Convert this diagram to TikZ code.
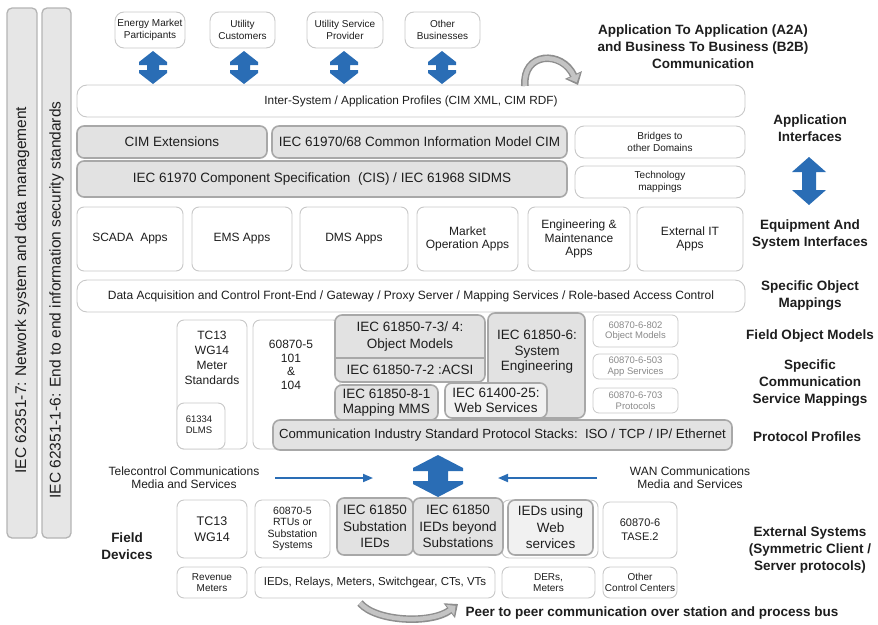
\documentclass[tikz,border=0pt]{standalone}
\usepackage{fontspec}
\setmainfont{Liberation Sans}
\usetikzlibrary{arrows.meta,calc}

\definecolor{blueA}{HTML}{2A6DB5}
\definecolor{gfill}{HTML}{E2E2E2}
\definecolor{lfill}{HTML}{F1F1F1}
\definecolor{gline}{HTML}{A8A8A8}
\definecolor{wline}{HTML}{C8C8C8}
\definecolor{txt}{HTML}{1E1E1E}
\definecolor{ltxt}{HTML}{8A8A8A}
\definecolor{barfill}{HTML}{E6E6E6}
\definecolor{barline}{HTML}{B4B4B4}
\definecolor{garrow}{HTML}{8E8E8E}
\definecolor{garrowin}{HTML}{C4C4C4}

\newcommand{\fs}[2]{\fontsize{#1}{#2}\selectfont}
% box from corner (x1,y1) to (x2,y2), given in picture units
\newcommand{\bx}[7]{\node[#2, minimum width={(#5-#3)*1pt}, minimum height={(#6-#4)*1pt}] (#1) at ({(#3+#5)/2},{(#4+#6)/2}) {#7};}
% notched double arrow: cx, top, bottom, head half-width, shaft half-width, head length, step
\newcommand{\dbl}[7]{%
  \fill[blueA] (#1,#2) -- ({#1+#4},{#2+#6}) -- ({#1+#4},{#2+#6+#7}) -- ({#1+#5},{#2+#6+#7})
   -- ({#1+#5},{#3-#6-#7}) -- ({#1+#4},{#3-#6-#7}) -- ({#1+#4},{#3-#6}) -- (#1,#3)
   -- ({#1-#4},{#3-#6}) -- ({#1-#4},{#3-#6-#7}) -- ({#1-#5},{#3-#6-#7})
   -- ({#1-#5},{#2+#6+#7}) -- ({#1-#4},{#2+#6+#7}) -- ({#1-#4},{#2+#6}) -- cycle;}

\begin{document}
\begin{tikzpicture}[x=1pt,y=-1pt,
  wbox/.style={draw=wline, fill=white, line width=0.9pt, rounded corners=7pt, inner sep=0pt, align=center, text=txt},
  gbox/.style={draw=gline, fill=gfill, line width=1.6pt, rounded corners=7pt, inner sep=0pt, align=center, text=txt, font=\fs{13.5}{16}},
  lbox/.style={gbox, fill=lfill},
  sbox/.style={draw=wline, line width=0.8pt, fill=white, rounded corners=6pt, inner sep=0pt, align=center, text=ltxt, font=\fs{9.5}{10.5}},
  bar/.style={draw=barline, fill=barfill, line width=1.3pt, rounded corners=5pt, inner sep=0pt},
  lab/.style={font=\bfseries\fs{13.5}{17}, align=center, text=txt},
  plain/.style={align=center, text=txt, inner sep=0pt},
  bluearrow/.style={draw=blueA, line width=1.8pt, -{Triangle[width=8pt,length=10pt]}},
  garrowout/.style={draw=garrow, line width=7.5pt, -{Triangle[width=18pt,length=11pt]}},
  garrowinner/.style={draw=garrowin, line width=4.5pt, shorten >=3pt, -{Triangle[width=13pt,length=7pt]}}]
\useasboundingbox (0,0) rectangle (878,624);

% security / management bars on the left
\bx{barA}{bar}{7}{8}{37}{538}{}
\bx{barB}{bar}{42}{8}{71}{538}{}
\node[rotate=90, font=\fs{15.5}{18}, text=txt] (barAt) at (22,290) {IEC 62351-7: Network system and data management};
\node[rotate=90, font=\fs{15.5}{18}, text=txt] (barBt) at (56.5,300) {IEC 62351-1-6: End to end information security standards};

% business parties
\bx{emp}{wbox,rounded corners=9pt,font=\fs{10}{11.5}}{115}{12}{185}{48}{Energy Market\\Participants}
\bx{uc}{wbox,rounded corners=9pt,font=\fs{10}{11.5}}{210}{12}{275}{48}{Utility\\Customers}
\bx{usp}{wbox,rounded corners=9pt,font=\fs{10}{11.5}}{307}{12}{383}{48}{Utility Service\\Provider}
\bx{ob}{wbox,rounded corners=9pt,font=\fs{10}{11.5}}{405}{12}{480}{48}{Other\\Businesses}
\dbl{153}{51}{84}{14}{6}{11}{3}
\dbl{244}{51}{84}{14}{6}{11}{3}
\dbl{344}{51}{84}{14}{6}{11}{3}
\dbl{442}{51}{84}{14}{6}{11}{3}

% application layers
\bx{isys}{wbox,rounded corners=10pt,font=\fs{11.8}{13}}{77}{85}{745}{117}{Inter-System / Application Profiles (CIM XML, CIM RDF)}
\coordinate (a2aL) at (525,86);
\coordinate (a2aR) at (578,85);
\draw[garrowout] (a2aL) .. controls (522,52) and (562,50) .. (a2aR);
\draw[garrowinner] (a2aL) .. controls (522,52) and (562,50) .. (a2aR);

\bx{cimx}{gbox}{77}{126}{267}{158}{CIM Extensions}
\bx{cim}{gbox}{272}{126}{567}{158}{IEC 61970/68 Common Information Model CIM}
\bx{brd}{wbox,rounded corners=9pt,font=\fs{10}{12}}{575}{126}{745}{158}{Bridges to\\other Domains}
\bx{cis}{gbox}{77}{161}{567}{197}{IEC 61970 Component Specification~~(CIS) / IEC 61968 SIDMS}
\bx{tech}{wbox,rounded corners=9pt,font=\fs{10}{12}}{575}{166}{745}{198}{Technology\\mappings}

\bx{scada}{wbox,font=\fs{12}{13.5}}{77}{207}{183}{271}{SCADA~~Apps}
\bx{ems}{wbox,font=\fs{12}{13.5}}{192}{207}{292}{271}{EMS Apps}
\bx{dms}{wbox,font=\fs{12}{13.5}}{300}{207}{408}{271}{DMS Apps}
\bx{mkt}{wbox,font=\fs{12}{13.5}}{417}{207}{518}{271}{Market\\Operation Apps}
\bx{eng}{wbox,font=\fs{12}{13.5}}{528}{207}{630}{271}{Engineering \&\\Maintenance\\Apps}
\bx{ext}{wbox,font=\fs{12}{13.5}}{637}{207}{743}{271}{External IT\\Apps}

\bx{daq}{wbox,rounded corners=10pt,font=\fs{12}{13}}{77}{280}{745}{312}{Data Acquisition and Control Front-End / Gateway / Proxy Server / Mapping Services / Role-based Access Control}

% field object models and mappings
\bx{tcm}{wbox}{177}{320}{247}{449}{}
\node[plain, font=\fs{12}{15}] (tcmt) at (212,358) {TC13\\WG14\\Meter\\Standards};
\bx{dlms}{wbox}{177}{403}{225}{449}{}
\node[plain, font=\fs{9.5}{11}] (dlmst) at (199,425) {61334\\DLMS};
\bx{iec5}{wbox}{253}{320}{340}{449}{}
\node[plain, font=\fs{12}{13.5}] (iec5t) at (291,365) {60870-5\\101\\\&\\104};

\bx{om}{gbox}{335}{315}{485}{382}{}
\coordinate (omdiv) at (410,358);
\draw[draw=gline, line width=1.1pt] (om.west |- omdiv) -- (om.east |- omdiv);
\node[plain, font=\fs{13.5}{17}] (omt) at (410,337) {IEC 61850-7-3/ 4:\\Object Models};
\node[plain, font=\fs{13.5}{16}] (acsi) at (410,370) {IEC 61850-7-2 :ACSI};

\bx{sys}{gbox}{488}{313}{585}{418}{}
\node[plain, font=\fs{13.5}{15.5}] (syst) at (537,352) {IEC 61850-6:\\System\\Engineering};

\bx{mms}{gbox,font=\fs{13.5}{15}}{335}{385}{438}{420}{IEC 61850-8-1\\Mapping MMS}
\bx{web}{lbox,font=\fs{13.5}{15}}{445}{383}{547}{418}{IEC 61400-25:\\Web Services}

\bx{s802}{sbox}{593}{315}{678}{347}{60870-6-802\\Object Models}
\bx{s503}{sbox}{593}{354}{678}{379}{60870-6-503\\App Services}
\bx{s703}{sbox}{593}{388}{678}{413}{60870-6-703\\Protocols}

\bx{stack}{gbox,font=\fs{13.2}{15}}{273}{420}{732}{450}{Communication Industry Standard Protocol Stacks:~~ISO / TCP / IP/ Ethernet}

% communication media
\node[plain, font=\fs{12}{13}] (tele) at (184,478) {Telecontrol Communications\\Media and Services};
\node[plain, font=\fs{12}{13}] (wan) at (690,478) {WAN Communications\\Media and Services};
\coordinate (teleA) at (275,478);
\coordinate (teleB) at (373,478);
\coordinate (wanA) at (597,478);
\coordinate (wanB) at (498,478);
\draw[bluearrow] (teleA) -- (teleB);
\draw[bluearrow] (wanA) -- (wanB);
\dbl{438}{455}{497}{25}{10}{13}{3}

% field devices
\node[lab] (fd) at (127,546) {Field\\Devices};
\bx{tcw}{wbox,font=\fs{12.5}{16}}{177}{500}{247}{558}{TC13\\WG14}
\bx{rtu}{wbox,font=\fs{10.5}{11.5}}{255}{500}{330}{558}{60870-5\\RTUs or\\Substation\\Systems}
\bx{webout}{wbox}{502}{500}{598}{558}{}
\bx{sub}{gbox,font=\fs{13.5}{16.5}}{337}{498}{413}{555}{IEC 61850\\Substation\\IEDs}
\bx{beyond}{gbox,font=\fs{13.5}{16.5}}{413}{498}{503}{555}{IEC 61850\\IEDs beyond\\Substations}
\bx{webied}{lbox,font=\fs{13.5}{16.5}}{508}{500}{593}{555}{IEDs using\\Web\\services}
\bx{tase}{wbox,font=\fs{11}{14}}{603}{502}{677}{558}{60870-6\\TASE.2}

\bx{rev}{wbox,font=\fs{10}{11.5}}{177}{567}{247}{598}{Revenue\\Meters}
\bx{ieds}{wbox,font=\fs{11.5}{13}}{255}{567}{495}{598}{IEDs, Relays, Meters, Switchgear, CTs, VTs}
\bx{der}{wbox,font=\fs{10}{11.5}}{502}{567}{595}{598}{DERs,\\Meters}
\bx{occ}{wbox,font=\fs{10}{11.5}}{603}{567}{677}{598}{Other\\Control Centers}

\coordinate (p2pL) at (360,603);
\coordinate (p2pR) at (458,604);
\draw[garrowout] (p2pL) .. controls (376,622) and (432,624) .. (p2pR);
\draw[garrowinner] (p2pL) .. controls (376,622) and (432,624) .. (p2pR);
\node[lab, anchor=west] (p2p) at (462,613) {Peer to peer communication over station and process bus};

% layer names on the right
\node[lab] (a2a) at (703,47) {Application To Application (A2A)\\and Business To Business (B2B)\\Communication};
\node[lab] (appif) at (810,128) {Application\\Interfaces};
\fill[blueA] (809,157) -- (826,172) -- (816,172) -- (816,190) -- (826,190) -- (809,205)
  -- (792,190) -- (802,190) -- (802,172) -- (792,172) -- cycle;
\node[lab] (eqif) at (810,235) {Equipment And\\System Interfaces};
\node[lab] (som) at (810,296) {Specific Object\\Mappings};
\node[lab] (fom) at (810,336) {Field Object Models};
\node[lab] (scsm) at (810,383) {Specific\\Communication\\Service Mappings};
\node[lab] (pp) at (807,437) {Protocol Profiles};
\node[lab] (extsys) at (810,550) {External Systems\\(Symmetric Client /\\Server protocols)};
\end{tikzpicture}
\end{document}
